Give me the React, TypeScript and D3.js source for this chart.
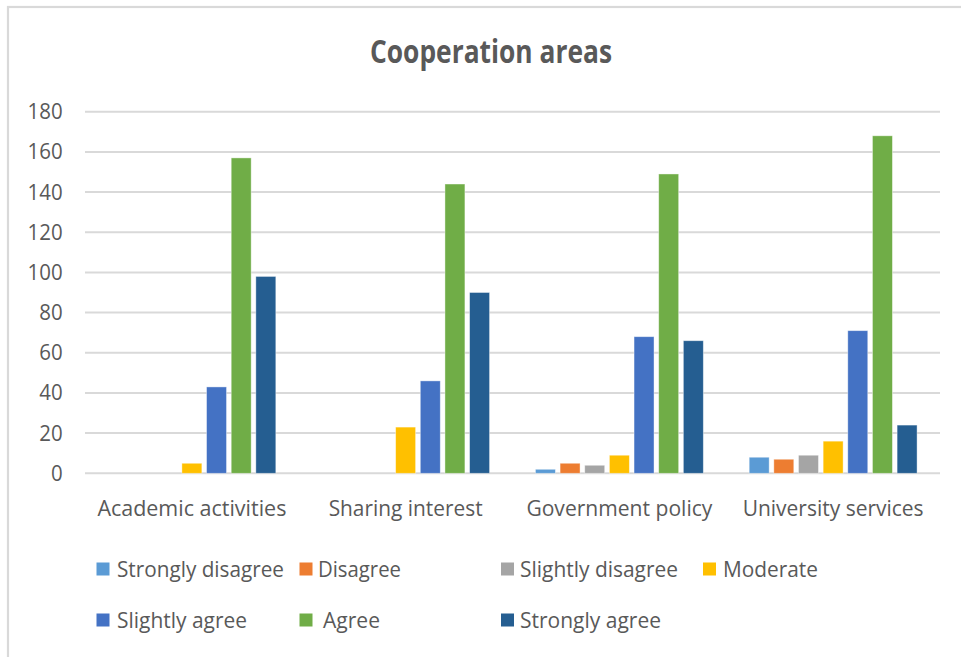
import React from "react";
import * as d3 from "d3";

const categories = ["Academic activities", "Sharing interest", "Government policy", "University services"];
const seriesNames = ["Strongly disagree", "Disagree", "Slightly disagree", "Moderate", "Slightly agree", "Agree", "Strongly agree"];
const stronglyDisagree = [0, 0, 2, 8];
const disagree = [0, 0, 5, 7];
const slightlyDisagree = [0, 0, 4, 9];
const moderate = [5, 23, 9, 16];
const slightlyAgree = [43, 46, 68, 71];
const agree = [157, 144, 149, 168];
const stronglyAgree = [98, 90, 66, 24];
const yTicks = [0, 20, 40, 60, 80, 100, 120, 140, 160, 180];
const colors = ["#5B9BD5", "#ED7D31", "#A5A5A5", "#FFC000", "#4472C4", "#70AD47", "#255E91"];

const seriesValues = [stronglyDisagree, disagree, slightlyDisagree, moderate, slightlyAgree, agree, stronglyAgree];

const W = 961;
const H = 657;
const plot = { left: 85, right: 940, top: 111.7, bottom: 473.3 };
const textColor = "#595959";
const font = "'Open Sans', 'Noto Sans', sans-serif";

// measured label widths for matching narrow font
const catWidths = [189, 154, 186, 181];
const legendItems = [
  { marker: 96.5, text: 117, width: 167, row: 0 },
  { marker: 299.5, text: 318, width: 83, row: 0 },
  { marker: 501, text: 520, width: 158, row: 0 },
  { marker: 703, text: 723, width: 95, row: 0 },
  { marker: 96.5, text: 117, width: 130, row: 1 },
  { marker: 299.5, text: 323, width: 57, row: 1 },
  { marker: 501, text: 520, width: 141, row: 1 },
];
const legendRowY = [569, 620];

export default function App() {
  const x0 = d3.scaleBand<string>().domain(categories).range([plot.left, plot.right]).paddingInner(0).paddingOuter(0);
  const x1 = d3
    .scaleBand<string>()
    .domain(seriesNames)
    .range([0, x0.bandwidth()])
    .paddingInner(0.19)
    .paddingOuter(0.93);
  const y = d3.scaleLinear().domain([0, 180]).range([plot.bottom, plot.top]);

  return (
    <svg
      width={W}
      height={H}
      style={{ position: "absolute", left: 0, top: 0, background: "#fff" }}
      fontFamily={font}
    >
      <rect x={0} y={0} width={W} height={H} fill="#fff" />
      <rect x={8} y={7} width={1200} height={900} fill="none" stroke="#D9D9D9" strokeWidth={2.2} />
      <text
        x={491}
        y={63}
        textAnchor="middle"
        fontSize={32}
        fontWeight="bold"
        fill={textColor}
        textLength={242}
        lengthAdjust="spacingAndGlyphs"
      >
        Cooperation areas
      </text>

      {yTicks.map((t) => (
        <g key={t}>
          <line x1={plot.left} x2={plot.right} y1={y(t)} y2={y(t)} stroke="#D9D9D9" strokeWidth={2} />
          <text
            x={62.7}
            y={y(t) + 7.5}
            textAnchor="end"
            fontSize={21.5}
            fill={textColor}
            textLength={String(t).length * 11.7}
            lengthAdjust="spacingAndGlyphs"
          >
            {t}
          </text>
        </g>
      ))}

      {categories.map((c, ci) => (
        <g key={c}>
          {seriesNames.map((s, si) => {
            const v = seriesValues[si][ci];
            if (v <= 0) return null;
            return (
              <rect
                key={s}
                x={(x0(c) as number) + (x1(s) as number)}
                y={y(v)}
                width={x1.bandwidth()}
                height={y(0) - y(v)}
                fill={colors[si]}
                stroke="#ffffff"
                strokeOpacity={0.5}
                strokeWidth={0.8}
              />
            );
          })}
          <text
            x={(x0(c) as number) + x0.bandwidth() / 2}
            y={516}
            textAnchor="middle"
            fontSize={22}
            fill={textColor}
            textLength={catWidths[ci]}
            lengthAdjust="spacingAndGlyphs"
          >
            {c}
          </text>
        </g>
      ))}

      {legendItems.map((it, i) => (
        <g key={seriesNames[i]}>
          <rect x={it.marker} y={legendRowY[it.row] - 6.5} width={13} height={13} fill={colors[i]} />
          <text
            x={it.text}
            y={legendRowY[it.row] + 8}
            fontSize={22}
            fill={textColor}
            textLength={it.width}
            lengthAdjust="spacingAndGlyphs"
          >
            {seriesNames[i]}
          </text>
        </g>
      ))}
    </svg>
  );
}
